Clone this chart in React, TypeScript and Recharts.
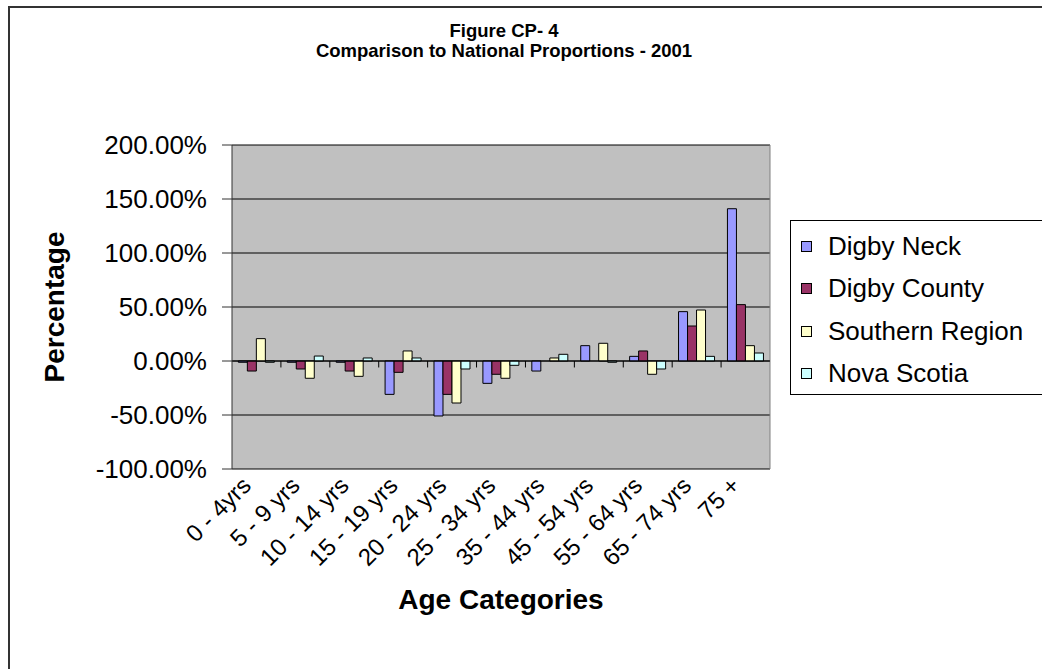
import { Bar, BarChart, CartesianGrid, ReferenceLine, XAxis, YAxis } from 'recharts';

const categories = ['0 - 4yrs', '5 - 9 yrs', '10 - 14 yrs', '15 - 19 yrs', '20 - 24 yrs', '25 - 34 yrs', '35 - 44 yrs', '45 - 54 yrs', '55 - 64 yrs', '65 - 74 yrs', '75 +'];
const digbyNeck = [-1.2, -1.2, -1.2, -30.9, -50.9, -20.7, -9.3, 14.2, 4.3, 45.7, 141];
const digbyCounty = [-9.3, -7.4, -9.3, -10.5, -30.9, -12.3, 0, 0, 9.3, 32.4, 52.2];
const southernRegion = [20.7, -16, -14.2, 9.3, -38.9, -16, 2.8, 16.4, -12.3, 47.2, 14.2];
const novaScotia = [-1.2, 4.6, 2.8, 2.8, -7.4, -4, 6.2, -1.2, -7.4, 4.3, 7.4];
const yTicks = [-100, -50, 0, 50, 100, 150, 200];

const series = [
  { key: 'digbyNeck', name: 'Digby Neck', color: '#9999FF' },
  { key: 'digbyCounty', name: 'Digby County', color: '#993366' },
  { key: 'southernRegion', name: 'Southern Region', color: '#FFFFCC' },
  { key: 'novaScotia', name: 'Nova Scotia', color: '#CCFFFF' },
];

const data = categories.map((age, i) => ({
  age,
  digbyNeck: digbyNeck[i],
  digbyCounty: digbyCounty[i],
  southernRegion: southernRegion[i],
  novaScotia: novaScotia[i],
}));

const font = '"Liberation Sans", Arial, sans-serif';

function AgeTick({ x, y, payload }: any) {
  const tx = x - 4;
  const ty = y + 10;
  return (
    <text x={tx} y={ty} transform={`rotate(-45 ${tx} ${ty})`} textAnchor="end" fontSize={24} fontFamily={font} fill="#000">
      {payload.value}
    </text>
  );
}

export default function App() {
  return (
    <div style={{ position: 'fixed', left: 0, top: 0, width: 1042, height: 669, overflow: 'hidden', background: '#fff', fontFamily: font }}>
      <div style={{ position: 'absolute', left: 8, top: 6, width: 1100, height: 720, border: '2px solid #333', boxSizing: 'border-box' }} />
      <div style={{ position: 'absolute', left: 0, top: 21, width: 1008, textAlign: 'center', fontWeight: 'bold', fontSize: 18.5, lineHeight: '20px' }}>
        Figure CP- 4
        <br />
        Comparison to National Proportions - 2001
      </div>
      <div style={{ position: 'absolute', left: 0, top: 0 }}>
        <BarChart width={1042} height={669} data={data} margin={{ top: 145, right: 272, bottom: 30, left: 0 }} barCategoryGap="13%" barGap={0}>
          <CartesianGrid vertical={false} stroke="#000" fill="#C0C0C0" />
          <CartesianGrid
            horizontal={false}
            stroke="#808080"
            verticalCoordinatesGenerator={({ offset }: any) => [offset.left + offset.width]}
          />
          <XAxis
            dataKey="age"
            interval={0}
            height={170}
            axisLine={false}
            tickLine={false}
            tick={<AgeTick />}
            label={{ value: 'Age Categories', position: 'insideBottom', offset: 30, fontSize: 28, fontWeight: 'bold', fill: '#000', fontFamily: font }}
          />
          <YAxis
            width={232}
            domain={[-100, 200]}
            ticks={yTicks}
            interval={0}
            tickFormatter={(v: number) => v.toFixed(2) + '%'}
            tick={{ fontSize: 26, fill: '#000', fontFamily: font }}
            tickSize={10}
            tickMargin={15}
            stroke="#333"
            label={{ value: 'Percentage', angle: -90, position: 'center', dx: -62, fontSize: 28, fontWeight: 'bold', fill: '#000', fontFamily: font }}
          />
          <ReferenceLine y={0} stroke="#000" />
          {categories.slice(1).map((c) => (
            <ReferenceLine key={c} segment={[{ x: c, y: 0 }, { x: c, y: -6 }]} position="start" stroke="#000" />
          ))}
          {series.map((s) => (
            <Bar key={s.key} dataKey={s.key} name={s.name} fill={s.color} stroke="#000" strokeWidth={1} isAnimationActive={false} />
          ))}
        </BarChart>
      </div>
      <div style={{ position: 'absolute', left: 790, top: 220, width: 280, height: 175, border: '1px solid #000', boxSizing: 'border-box', background: '#fff', paddingTop: 4 }}>
        {series.map((s) => (
          <div key={s.key} style={{ display: 'flex', alignItems: 'center', height: 42.5, fontSize: 26 }}>
            <span style={{ display: 'inline-block', width: 9, height: 9, background: s.color, border: '1px solid #000', marginLeft: 10, marginRight: 16 }} />
            <span>{s.name}</span>
          </div>
        ))}
      </div>
    </div>
  );
}
